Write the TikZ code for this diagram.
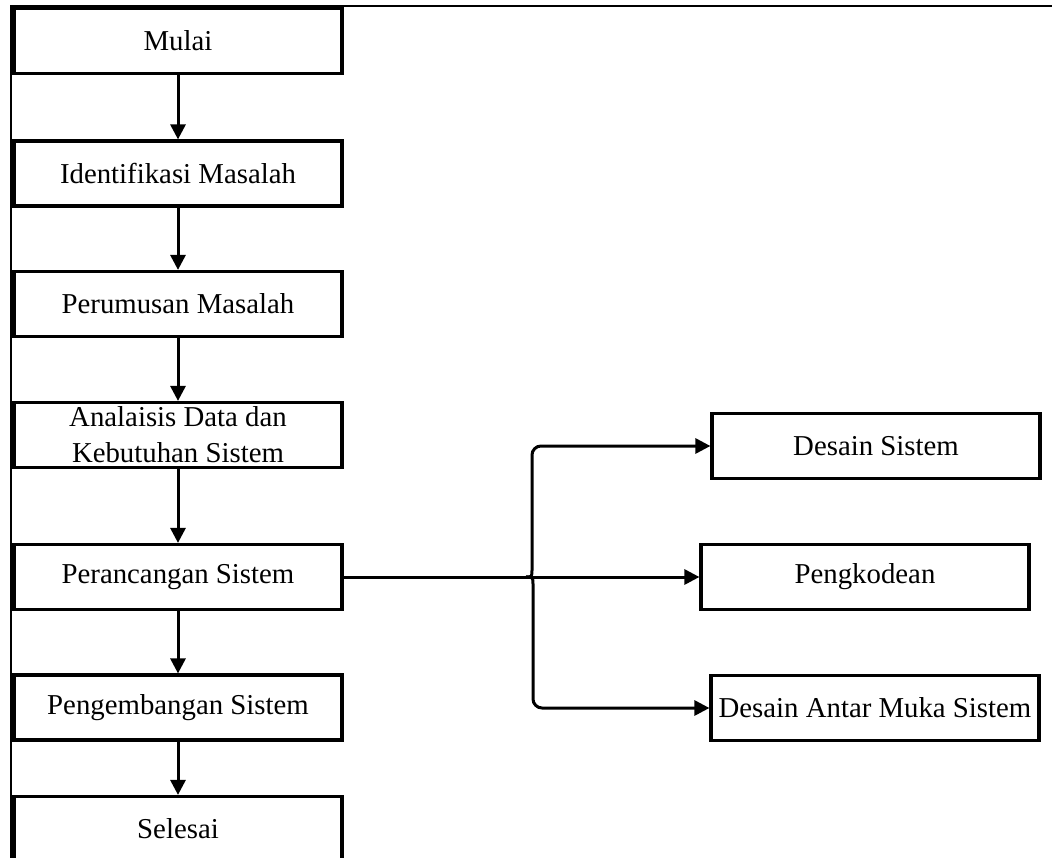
\documentclass[tikz,border=0pt]{standalone}
\usepackage{fontspec}
\setmainfont{Liberation Serif}
\usetikzlibrary{arrows.meta}

\begin{document}
\begin{tikzpicture}[x=1pt, y=-1pt,
  box/.style={draw, line width=3.2pt, rectangle, minimum width=328pt, minimum height=65pt,
    inner sep=0pt, align=center, font=\fontsize{28.8}{36}\selectfont},
  arr/.style={line width=3pt, -{Triangle[length=15pt,width=15pt]}}]
\clip (0,0) rectangle (1052,858);
\fill[white] (0,0) rectangle (1052,858);
\draw[line width=2pt] (11,870) -- (11,6) -- (1060,6);

\node[box] (n1) at (178, 41) {Mulai};
\node[box] (n2) at (178, 173.5) {Identifikasi Masalah};
\node[box] (n3) at (178, 304) {Perumusan Masalah};
\node[box] (n4) at (178, 435) {Analaisis Data dan\\Kebutuhan Sistem};
\node[box] (n5) at (178, 577) {Perancangan Sistem};
\node[box] (n6) at (178, 707.5) {Pengembangan Sistem};
\node[box] (n7) at (178, 829) {Selesai};
\node[box] (n8) at (876, 446) {Desain Sistem};
\node[box] (n9) at (865, 577) {Pengkodean};
\node[box] (n10) at (875, 708) {Desain Antar Muka Sistem};
\coordinate (j) at (526, 577);

\draw[arr] (n1) -- (n2);
\draw[arr] (n2) -- (n3);
\draw[arr] (n3) -- (n4);
\draw[arr] (n4) -- (n5);
\draw[arr] (n5) -- (n6);
\draw[arr] (n6) -- (n7);
\draw[arr] (n5) -- (n9);
\draw[arr] (j) .. controls (532,577) .. (532,569) [rounded corners=9pt] |- (n8.west);
\draw[arr] (j) .. controls (533,577) .. (533,585) [rounded corners=9pt] |- (n10.west);
\end{tikzpicture}
\end{document}
